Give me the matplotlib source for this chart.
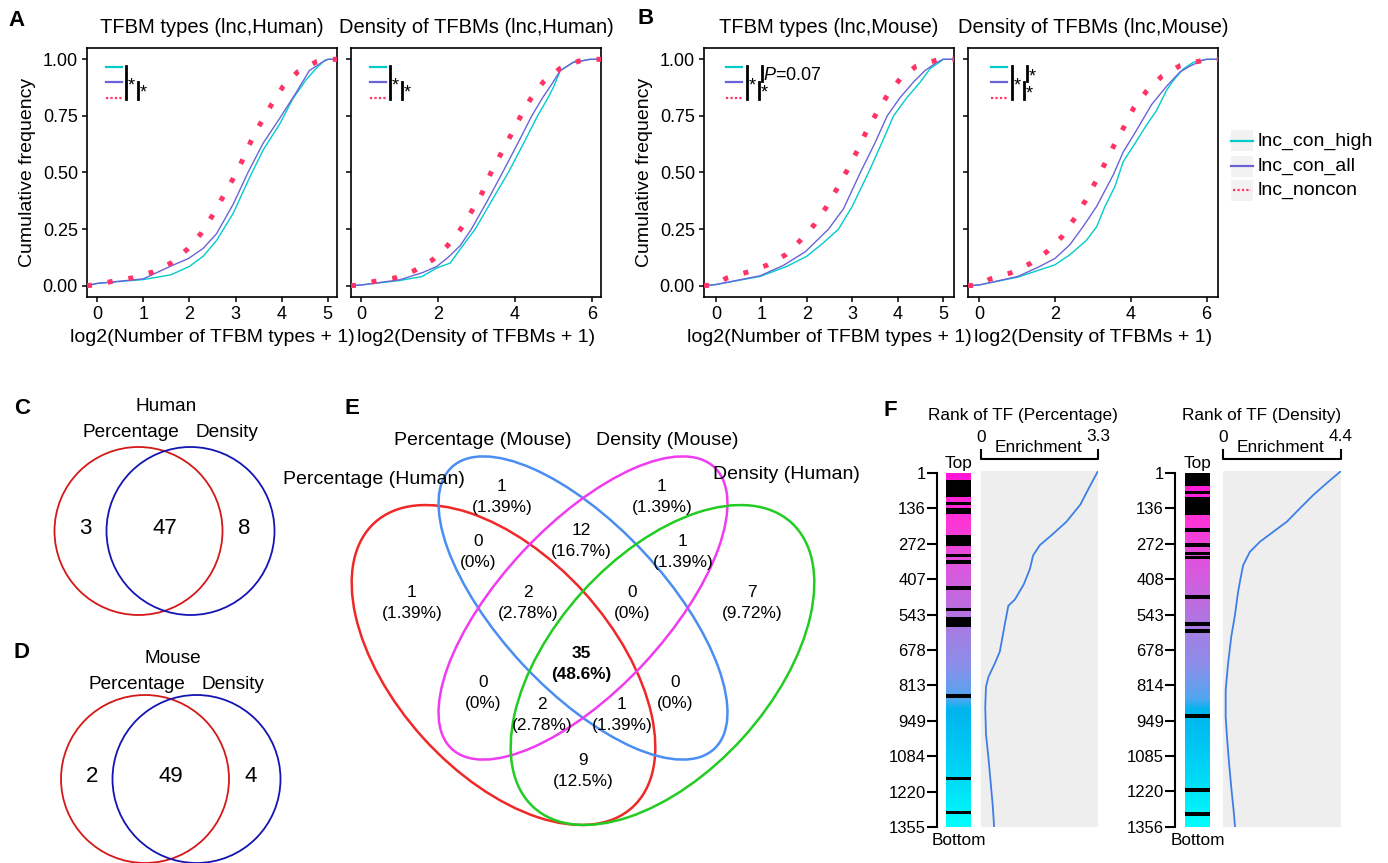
import numpy as np
import matplotlib.pyplot as plt
from matplotlib.patches import Ellipse, Rectangle
from matplotlib.colors import LinearSegmentedColormap

plt.rcParams['font.family'] = ['Liberation Sans', 'DejaVu Sans']
plt.rcParams['mathtext.fontset'] = 'custom'
plt.rcParams['mathtext.rm'] = 'Liberation Sans'
plt.rcParams['mathtext.it'] = 'Liberation Sans:italic'

W, H = 1388, 863

# ------------------------------------------------------------------
# A / B : cumulative frequency of log2(value + 1)
groups = ['lnc_con_high', 'lnc_con_all', 'lnc_noncon']

# A, TFBM types (lnc, Human)
hum_types_high_x = [0, 1.0, 1.6, 2.0, 2.3, 2.59, 2.95, 3.31, 3.6, 3.96, 4.24, 4.53, 4.75, 4.93, 5.0]
hum_types_high_y = [0.01, 0.027, 0.048, 0.085, 0.13, 0.20, 0.32, 0.48, 0.60, 0.715, 0.825, 0.91, 0.96, 0.995, 1.0]
hum_types_all_x = [0, 1.0, 1.58, 1.98, 2.30, 2.59, 2.95, 3.27, 3.6, 3.96, 4.32, 4.6, 4.86, 5.0]
hum_types_all_y = [0.01, 0.03, 0.085, 0.12, 0.165, 0.23, 0.36, 0.50, 0.63, 0.74, 0.855, 0.95, 0.985, 1.0]
hum_types_non_x = [0, 0.3, 0.75, 1.2, 1.6, 1.95, 2.25, 2.5, 2.72, 2.94, 3.14, 3.34, 3.55, 3.78, 4.03, 4.35, 4.76, 5.0]
hum_types_non_y = [0.005, 0.018, 0.034, 0.06, 0.10, 0.16, 0.23, 0.31, 0.39, 0.47, 0.55, 0.64, 0.72, 0.80, 0.88, 0.945, 0.99, 1.0]

# A, Density of TFBMs (lnc, Human)
hum_dens_high_x = [0, 1.01, 1.58, 1.97, 2.32, 2.66, 2.97, 3.38, 3.83, 4.2, 4.59, 4.83, 5.0, 5.18, 5.52, 5.87, 5.95]
hum_dens_high_y = [0.003, 0.023, 0.04, 0.078, 0.10, 0.18, 0.25, 0.37, 0.5, 0.62, 0.75, 0.82, 0.875, 0.95, 0.987, 0.997, 1.0]
hum_dens_all_x = [0, 1.01, 1.62, 1.97, 2.27, 2.58, 2.87, 3.27, 3.68, 4.05, 4.44, 4.72, 4.96, 5.18, 5.52, 5.87, 5.95]
hum_dens_all_y = [0.003, 0.026, 0.059, 0.085, 0.126, 0.177, 0.25, 0.37, 0.5, 0.62, 0.75, 0.83, 0.89, 0.95, 0.987, 0.997, 1.0]
hum_dens_non_x = [0, 0.32, 0.88, 1.38, 1.86, 2.25, 2.59, 2.88, 3.15, 3.38, 3.63, 3.88, 4.14, 4.41, 4.74, 5.18, 5.68, 5.95]
hum_dens_non_y = [0.003, 0.018, 0.034, 0.066, 0.114, 0.177, 0.25, 0.33, 0.41, 0.50, 0.58, 0.66, 0.745, 0.825, 0.90, 0.96, 0.993, 1.0]

# B, TFBM types (lnc, Mouse)
mus_types_high_x = [0, 0.98, 1.56, 2.0, 2.37, 2.70, 3.0, 3.36, 3.65, 3.91, 4.2, 4.5, 4.72, 4.94, 5.0]
mus_types_high_y = [0.005, 0.041, 0.085, 0.13, 0.19, 0.25, 0.35, 0.5, 0.63, 0.75, 0.83, 0.9, 0.96, 0.99, 1.0]
mus_types_all_x = [0, 0.98, 1.49, 1.97, 2.48, 2.81, 3.18, 3.5, 3.77, 4.05, 4.35, 4.6, 4.85, 5.0]
mus_types_all_y = [0.005, 0.044, 0.09, 0.15, 0.25, 0.34, 0.5, 0.63, 0.75, 0.83, 0.9, 0.95, 0.985, 1.0]
mus_types_non_x = [0, 0.24, 0.68, 1.12, 1.53, 1.86, 2.17, 2.44, 2.67, 2.89, 3.11, 3.31, 3.53, 3.77, 4.06, 4.41, 4.87, 5.0]
mus_types_non_y = [0.005, 0.034, 0.059, 0.09, 0.136, 0.20, 0.27, 0.35, 0.43, 0.51, 0.595, 0.68, 0.76, 0.84, 0.915, 0.97, 0.997, 1.0]

# B, Density of TFBMs (lnc, Mouse)
mus_dens_high_x = [0, 1.03, 1.60, 2.0, 2.39, 2.83, 3.10, 3.32, 3.58, 3.80, 4.11, 4.41, 4.68, 4.94, 5.12, 5.38, 5.65, 5.91, 6.0]
mus_dens_high_y = [0.003, 0.038, 0.07, 0.092, 0.136, 0.20, 0.26, 0.35, 0.437, 0.547, 0.628, 0.708, 0.774, 0.862, 0.906, 0.957, 0.987, 0.997, 1.0]
mus_dens_all_x = [0, 1.03, 1.60, 2.0, 2.39, 2.74, 3.10, 3.54, 3.80, 4.15, 4.55, 4.94, 5.29, 5.56, 5.91, 6.0]
mus_dens_all_y = [0.003, 0.041, 0.085, 0.12, 0.18, 0.26, 0.35, 0.49, 0.59, 0.686, 0.80, 0.88, 0.943, 0.97, 0.997, 1.0]
mus_dens_non_x = [0, 0.30, 0.83, 1.34, 1.79, 2.19, 2.51, 2.80, 3.06, 3.32, 3.56, 3.83, 4.08, 4.43, 4.82, 5.30, 5.84, 6.0]
mus_dens_non_y = [0.003, 0.03, 0.056, 0.097, 0.15, 0.217, 0.295, 0.374, 0.455, 0.54, 0.62, 0.704, 0.786, 0.862, 0.925, 0.972, 0.993, 1.0]

# ------------------------------------------------------------------
# C / D : two-set Venn counts (percentage only, both, density only)
venn_human = [3, 47, 8]
venn_mouse = [2, 49, 4]

# E : four-set Venn region counts
venn4_regions = ['pm', 'dm', 'pm&dm', 'ph&pm', 'dm&dh', 'ph', 'ph&pm&dm', 'pm&dm&dh', 'dh',
                 'all', 'ph&dm', 'pm&dh', 'ph&dm&dh', 'ph&pm&dh', 'ph&dh']
venn4_counts = [1, 1, 12, 0, 1, 1, 2, 0, 7, 35, 0, 0, 2, 1, 9]

# F : TF ranks
rank_pct_ticks = [1, 136, 272, 407, 543, 678, 813, 949, 1084, 1220, 1355]
rank_den_ticks = [1, 136, 272, 408, 543, 678, 814, 949, 1085, 1220, 1356]
pct_hits = [(27, 91), (113, 125), (136, 159), (238, 279), (309, 322), (335, 348), (435, 450),
            (517, 530), (550, 591), (846, 861), (1163, 1177), (1292, 1307)]
den_hits = [(1, 52), (69, 82), (91, 161), (213, 228), (268, 283), (303, 315), (319, 332),
            (469, 485), (570, 585), (599, 614), (922, 938), (1207, 1223), (1297, 1313)]
pct_curve_rank = [1, 59, 129, 194, 245, 283, 322, 373, 431, 489, 514, 578, 688, 733, 784, 822, 899,
                  1002, 1092, 1182, 1272, 1355]
pct_curve_enr = [3.30, 3.07, 2.80, 2.41, 1.99, 1.66, 1.47, 1.38, 1.21, 0.96, 0.77, 0.68, 0.53, 0.39,
                 0.21, 0.14, 0.12, 0.14, 0.21, 0.27, 0.33, 0.37]
den_curve_rank = [1, 46, 91, 142, 194, 232, 270, 309, 360, 412, 463, 553, 630, 733, 835, 938, 1015,
                  1118, 1207, 1297, 1356]
den_curve_enr = [4.4, 3.88, 3.38, 2.88, 2.38, 1.88, 1.38, 1.0, 0.75, 0.65, 0.56, 0.44, 0.31, 0.19,
                 0.10, 0.10, 0.15, 0.23, 0.31, 0.40, 0.45]

# ------------------------------------------------------------------
fig = plt.figure(figsize=(W / 100, H / 100), dpi=100)


def px_axes(x0, y0, x1, y1):
    return fig.add_axes([x0 / W, 1 - y1 / H, (x1 - x0) / W, (y1 - y0) / H])


line_colors = ['#00CCCC', '#6A63D8', '#FF3366']


def cdf_panel(box, xlim, xticks, curves, title, xlabel, ylab):
    ax = px_axes(*box)
    for (xs, ys), col in zip(curves, line_colors):
        xx = [xlim[0]] + list(xs) + [xlim[1]]
        yy = [0.0] + list(ys) + [1.0]
        if col == '#FF3366':
            ax.plot(xx, yy, color=col, lw=3.6, ls=(0, (1, 3.2)), dash_capstyle='butt', zorder=3)
        else:
            ax.plot(xx, yy, color=col, lw=1.0, zorder=2)
    ax.set_xlim(xlim)
    ax.set_ylim(-0.05, 1.05)
    ax.set_xticks(xticks)
    ax.set_yticks([0, 0.25, 0.5, 0.75, 1.0])
    if ylab:
        ax.set_yticklabels(['0.00', '0.25', '0.50', '0.75', '1.00'])
        ax.set_ylabel('Cumulative frequency', fontsize=14, labelpad=5)
    else:
        ax.set_yticklabels([])
    ax.set_title(title, fontsize=14.5, pad=11)
    ax.set_xlabel(xlabel, fontsize=14, labelpad=4)
    ax.tick_params(labelsize=13, length=3.5, width=1.1, pad=3)
    for s in ax.spines.values():
        s.set_linewidth(1.2)
    return ax


cdf_panel((87, 48, 337, 297), (-0.22, 5.2), [0, 1, 2, 3, 4, 5],
          [(hum_types_high_x, hum_types_high_y), (hum_types_all_x, hum_types_all_y),
           (hum_types_non_x, hum_types_non_y)],
          'TFBM types (lnc,Human)', 'log2(Number of TFBM types + 1)', True)
cdf_panel((351, 48, 601, 297), (-0.26, 6.24), [0, 2, 4, 6],
          [(hum_dens_high_x, hum_dens_high_y), (hum_dens_all_x, hum_dens_all_y),
           (hum_dens_non_x, hum_dens_non_y)],
          'Density of TFBMs (lnc,Human)', 'log2(Density of TFBMs + 1)', False)
cdf_panel((704, 48, 954, 297), (-0.26, 5.24), [0, 1, 2, 3, 4, 5],
          [(mus_types_high_x, mus_types_high_y), (mus_types_all_x, mus_types_all_y),
           (mus_types_non_x, mus_types_non_y)],
          'TFBM types (lnc,Mouse)', 'log2(Number of TFBM types + 1)', True)
cdf_panel((968, 48, 1218, 297), (-0.29, 6.3), [0, 2, 4, 6],
          [(mus_dens_high_x, mus_dens_high_y), (mus_dens_all_x, mus_dens_all_y),
           (mus_dens_non_x, mus_dens_non_y)],
          'Density of TFBMs (lnc,Mouse)', 'log2(Density of TFBMs + 1)', False)

# ------------------------------------------------------------------
# F : rank bars with enrichment curve
bar_cmap = LinearSegmentedColormap.from_list('rank', [
    (0.0, '#FF14D9'), (0.13, '#FF33D6'), (0.26, '#DD55DE'), (0.35, '#C468DE'),
    (0.45, '#A47EE3'), (0.55, '#8A8FEA'), (0.64, '#4FA8F0'), (0.67, '#00B4EE'),
    (0.78, '#00C8F4'), (0.88, '#00DDF6'), (1.0, '#00FFFF')])


def rank_panel(bar_box, gray_box, axis_x, ticks, hits, ranks, enrich, emax):
    n = ticks[-1]
    axb = px_axes(*bar_box)
    axb.imshow(np.linspace(0, 1, 400)[:, None], aspect='auto', cmap=bar_cmap,
               extent=[0, 1, n, 1], origin='upper')
    for a, b in hits:
        axb.axhspan(a, b, color='black', lw=0)
    axb.set_xlim(0, 1)
    axb.set_ylim(n, 1)
    axb.set_xticks([])
    axb.set_yticks(ticks)
    for k in ['top', 'right', 'bottom']:
        axb.spines[k].set_visible(False)
    axb.spines['left'].set_position(('outward', (bar_box[0] - axis_x) * 0.72))
    axb.spines['left'].set_linewidth(1.5)
    axb.tick_params(axis='y', length=7, width=1.5, labelsize=12, pad=1)

    axc = px_axes(*gray_box)
    axc.set_facecolor('#EEEEEE')
    axc.plot(enrich, ranks, color='#3D7FE6', lw=1.3)
    axc.set_xlim(0, emax)
    axc.set_ylim(n, 1)
    axc.set_xticks([])
    axc.set_yticks([])
    for s in axc.spines.values():
        s.set_visible(False)


rank_panel((946, 473, 971, 827), (981, 471, 1098, 827), 937, rank_pct_ticks, pct_hits,
           pct_curve_rank, pct_curve_enr, 3.3)
rank_panel((1185, 473, 1210, 827), (1223, 471, 1341, 827), 1175, rank_den_ticks, den_hits,
           den_curve_rank, den_curve_enr, 4.4)

# ------------------------------------------------------------------
# overlay in pixel coordinates: venns, labels, small legends
ov = fig.add_axes([0, 0, 1, 1])
ov.set_xlim(0, W)
ov.set_ylim(H, 0)
ov.axis('off')
ov.patch.set_visible(False)

for lab, x, y in [('A', 17, 20), ('B', 646, 18), ('C', 22, 408), ('D', 22, 652),
                  ('E', 352, 408), ('F', 890, 410)]:
    ov.text(x, y, lab, fontsize=16, fontweight='bold', ha='center', va='center')

# inset legends of the cumulative plots
rows = [19, 34.5, 50]


def inset(left, top, ldx, bars, stars, ptxt=None):
    for r, col in zip(rows, line_colors):
        if col == '#FF3366':
            ov.plot([left + ldx, left + ldx + 16], [top + r] * 2, color=col, lw=1.6,
                    ls=(0, (1, 1)), dash_capstyle='butt')
        else:
            ov.plot([left + ldx, left + ldx + 16], [top + r] * 2, color=col, lw=1.6)
    for bx, y0, y1 in bars:
        ov.plot([left + bx] * 2, [top + y0, top + y1], color='black', lw=2)
    for sx, sy in stars:
        ov.text(left + sx, top + sy, '*', fontsize=13, ha='left', va='top')
    if ptxt:
        ov.text(left + ptxt[0], top + ptxt[1], '$P$=0.07', fontsize=13, ha='left', va='center')


inset(87, 48, 19, [(39, 18, 51), (51, 34, 51)], [(41, 29), (53, 36)])
inset(351, 48, 19, [(39, 18, 51), (51, 34, 51)], [(41, 29), (53, 36)])
inset(704, 48, 22, [(43, 18, 51), (55, 34, 51), (58, 18, 33)], [(45, 29), (57, 36)], (59, 27))
inset(968, 48, 23, [(44, 18, 51), (56, 34, 51), (59, 18, 33)], [(46, 29), (58, 37), (61, 20)])

# right legend
for (yc, name, col) in zip([141, 166.5, 190.5], groups, line_colors):
    ov.add_patch(Rectangle((1231, yc - 10.5), 22, 21, facecolor='#F2F2F2', lw=0))
    if col == '#FF3366':
        ov.plot([1233, 1251], [yc, yc], color=col, lw=1.6, ls=(0, (1, 1)), dash_capstyle='butt')
    else:
        ov.plot([1231, 1253], [yc, yc], color=col, lw=1.6)
    ov.text(1258, yc, name, fontsize=14, ha='left', va='center')


# C and D
def venn2(cy, cx_red, cx_blue, counts, species, ty):
    ov.add_patch(Ellipse((cx_red, cy), 168, 168, fill=False, edgecolor='#D41818', lw=1.3))
    ov.add_patch(Ellipse((cx_blue, cy), 168, 168, fill=False, edgecolor='#1414B4', lw=1.3))
    for x, c in zip([cx_red - 53, (cx_red + cx_blue) / 2, cx_blue + 54], counts):
        ov.text(x, cy - 3, str(c), fontsize=16, ha='center', va='center')
    ov.text((cx_red + cx_blue) / 2 + 2, ty, species, fontsize=13.7, ha='center', va='center')
    ov.text(cx_red - 8, ty + 26, 'Percentage', fontsize=13.7, ha='center', va='center')
    ov.text(cx_blue + 36, ty + 26, 'Density', fontsize=13.7, ha='center', va='center')


venn2(531, 138.5, 190.5, venn_human, 'Human', 406)
venn2(779, 145, 196.5, venn_mouse, 'Mouse', 658)

# E
ov.add_patch(Ellipse((503.5, 665), 384, 217, angle=47.9, fill=False, edgecolor='#F02828', lw=1.8))
ov.add_patch(Ellipse((583, 608), 385, 165, angle=47.0, fill=False, edgecolor='#4A8EF2', lw=1.8))
ov.add_patch(Ellipse((583, 608), 385, 165, angle=-47.0, fill=False, edgecolor='#F03CF0', lw=1.8))
ov.add_patch(Ellipse((662.5, 665), 384, 217, angle=-47.9, fill=False, edgecolor='#22CC22', lw=1.8))

for txt, x, y in [('Percentage (Mouse)', 483, 440), ('Density (Mouse)', 667, 440),
                  ('Percentage (Human)', 374, 479), ('Density (Human)', 786, 474)]:
    ov.text(x, y, txt, fontsize=14, ha='center', va='center')

venn4_pos = [(502, 486), (662, 486), (581, 530), (478, 541), (683, 541), (412, 592), (528, 592),
             (632, 592), (752, 592), (581, 653), (483, 682), (675, 682), (542, 704), (622, 704),
             (583, 760)]
total = sum(venn4_counts)
for (x, y), c, reg in zip(venn4_pos, venn4_counts, venn4_regions):
    fw = 'bold' if reg == 'all' else 'normal'
    ov.text(x, y, str(c), fontsize=12.4, ha='center', va='center', fontweight=fw)
    ov.text(x, y + 21, '(%s%%)' % format(100 * c / total, '.3g'), fontsize=12.4, ha='center',
            va='center', fontweight=fw)

# F annotations
for gx0, gx1, bx, title_x, emax, title in [(981, 1098, 958.5, 1023, '3.3', 'Rank of TF (Percentage)'),
                                           (1223, 1341, 1197.5, 1262, '4.4', 'Rank of TF (Density)')]:
    ov.text(title_x, 415, title, fontsize=12.4, ha='center', va='center')
    ov.plot([gx0, gx0, gx1, gx1], [450, 459, 459, 450], color='black', lw=1.5)
    ov.text(gx0, 437, '0', fontsize=12.4, ha='center', va='center')
    ov.text(gx1, 436, emax, fontsize=12.4, ha='center', va='center')
    ov.text((gx0 + gx1) / 2 - 1, 447, 'Enrichment', fontsize=12.4, ha='center', va='center')
    ov.text(bx, 463, 'Top', fontsize=12.4, ha='center', va='center')
    ov.text(bx, 840, 'Bottom', fontsize=12.4, ha='center', va='center')

fig.savefig('out.png', dpi=100)
